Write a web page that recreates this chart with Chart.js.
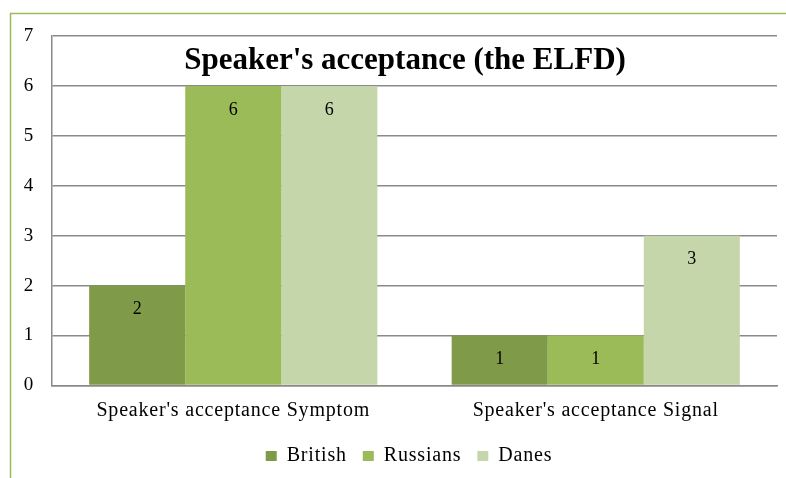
<!DOCTYPE html>
<html>
<head>
<meta charset="utf-8">
<script src="https://cdn.jsdelivr.net/npm/chart.js@4.4.1/dist/chart.umd.min.js"></script>
<style>
html,body{margin:0;padding:0;background:#fff;}
#wrap{width:786px;height:478px;position:relative;}
</style>
</head>
<body>
<div id="wrap"><canvas id="c" width="786" height="478"></canvas></div>
<script>
const titleText = "Speaker's acceptance (the ELFD)";
const categories = ["Speaker's acceptance Symptom", "Speaker's acceptance Signal"];
const seriesNames = ["British", "Russians", "Danes"];
const british = [2, 1];
const russians = [6, 1];
const danes = [6, 3];
const seriesColors = ["#7F9A48", "#9BBB59", "#C5D6AA"];
const yTicks = [0, 1, 2, 3, 4, 5, 6, 7];

const SERIF = "'Liberation Serif', 'Times New Roman', serif";

const spacingPlugin = {
  id: 'spacing',
  beforeLayout(chart) { chart.ctx.letterSpacing = '0.8px'; },
  afterLayout(chart) {
    // legend is centred slightly right of the canvas centre in the reference
    if (chart.legend) { chart.legend.left += 20.5; chart.legend.right += 20.5; }
  },
  beforeDraw(chart) { chart.ctx.letterSpacing = '0.8px'; }
};

const framePlugin = {
  id: 'frame',
  beforeDraw(chart) {
    const ctx = chart.ctx;
    ctx.save();
    ctx.fillStyle = '#fff';
    ctx.fillRect(0, 0, chart.width, chart.height);
    ctx.strokeStyle = '#9BBB59';
    ctx.lineWidth = 1.5;
    ctx.beginPath();
    ctx.moveTo(10.5, chart.height + 2);
    ctx.lineTo(10.5, 13.5);
    ctx.lineTo(chart.width + 2, 13.5);
    ctx.stroke();
    ctx.restore();
  }
};

const labelPlugin = {
  id: 'barLabels',
  afterDatasetsDraw(chart) {
    const ctx = chart.ctx;
    ctx.save();
    ctx.letterSpacing = '0px';
    ctx.font = "18px " + SERIF;
    ctx.fillStyle = '#000';
    ctx.textAlign = 'center';
    ctx.textBaseline = 'middle';
    chart.data.datasets.forEach((ds, i) => {
      chart.getDatasetMeta(i).data.forEach((bar, j) => {
        ctx.fillText(String(ds.data[j]), bar.x, bar.y + 24);
      });
    });
    // title drawn inside plot area
    ctx.font = "bold 31px " + SERIF;
    ctx.fillStyle = '#000';
    ctx.textBaseline = 'alphabetic';
    ctx.fillText(titleText, 405, 69);
    ctx.restore();
  }
};

new Chart(document.getElementById('c'), {
  type: 'bar',
  data: {
    labels: categories,
    datasets: [
      { label: seriesNames[0], data: british, backgroundColor: seriesColors[0] },
      { label: seriesNames[1], data: russians, backgroundColor: seriesColors[1] },
      { label: seriesNames[2], data: danes, backgroundColor: seriesColors[2] }
    ]
  },
  options: {
    responsive: false,
    animation: false,
    devicePixelRatio: 1,
    layout: { padding: { left: 0, right: 9, top: 36, bottom: 2 } },
    datasets: { bar: { barPercentage: 1, categoryPercentage: 0.795, borderWidth: 0 } },
    scales: {
      x: {
        grid: { display: false, drawTicks: false },
        border: { display: true, color: '#8a8a8a', width: 1.5 },
        ticks: { color: '#000', font: { family: SERIF, size: 20 }, padding: 13, maxRotation: 0 },
        afterFit(scale) { scale.height = 44.6; }
      },
      y: {
        min: 0, max: 7,
        afterBuildTicks(scale) { scale.ticks = yTicks.map(v => ({ value: v })); },
        grid: { color: '#8a8a8a', lineWidth: 1.5, drawTicks: false },
        border: { display: true, color: '#8a8a8a', width: 1.5 },
        ticks: { color: '#000', font: { family: SERIF, size: 19 }, padding: 18 },
        afterFit(scale) { scale.width = 52; }
      }
    },
    plugins: {
      legend: {
        position: 'bottom',
        labels: {
          color: '#000',
          font: { family: SERIF, size: 20 },
          boxWidth: 11, boxHeight: 10,
          padding: 16
        }
      },
      title: { display: false },
      tooltip: { enabled: false }
    }
  },
  plugins: [spacingPlugin, framePlugin, labelPlugin]
});
</script>
</body>
</html>
